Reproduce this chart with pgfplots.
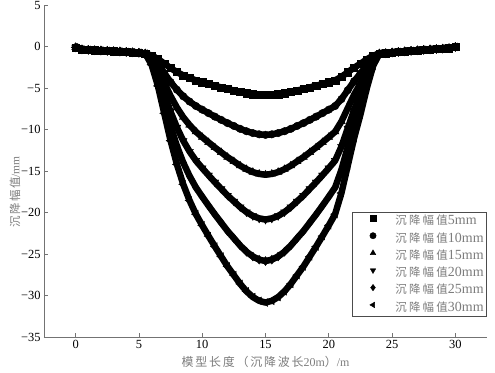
\documentclass[border=0pt]{standalone}
\usepackage{pgfplots}
\pgfplotsset{compat=1.18}
\usepackage{pgfplotstable}
\usepackage{fontspec}
\setmainfont{Liberation Serif}
\newfontfamily\cjk[LetterSpace=12]{Noto Sans CJK SC}
\newfontfamily\cjkx[LetterSpace=15]{Noto Sans CJK SC}
\newfontfamily\cjkl[LetterSpace=20]{Noto Sans CJK SC}
\definecolor{axgray}{RGB}{115,115,115}
\definecolor{labgray}{RGB}{125,125,125}
\newcommand\leg[1]{\textcolor{labgray}{{\cjkl\fontsize{11.5}{13}\selectfont 沉降幅值}#1}}

\pgfplotstableread{
x s5 s10 s15 s20 s25 s30
0.0 -0.10 -0.10 -0.10 -0.10 -0.10 -0.10
0.5 -0.35 -0.35 -0.35 -0.35 -0.35 -0.35
1.0 -0.40 -0.40 -0.40 -0.40 -0.40 -0.40
1.5 -0.45 -0.45 -0.45 -0.45 -0.45 -0.45
2.0 -0.48 -0.48 -0.48 -0.48 -0.48 -0.48
2.5 -0.52 -0.52 -0.52 -0.52 -0.52 -0.52
3.0 -0.56 -0.56 -0.56 -0.56 -0.56 -0.56
3.5 -0.60 -0.60 -0.60 -0.60 -0.60 -0.60
4.0 -0.65 -0.65 -0.65 -0.65 -0.65 -0.65
4.5 -0.70 -0.70 -0.70 -0.70 -0.70 -0.70
5.0 -0.75 -0.75 -0.75 -0.75 -0.75 -0.75
5.5 -0.85 -0.85 -0.85 -0.85 -0.85 -0.85
6.0 -1.08 -1.29 -1.51 -1.75 -1.98 -2.20
6.5 -1.50 -2.12 -2.75 -3.45 -4.10 -4.75
7.0 -2.05 -3.20 -4.35 -5.65 -6.85 -8.05
7.5 -2.60 -4.28 -5.96 -7.85 -9.60 -11.35
8.0 -3.08 -5.21 -7.35 -9.75 -11.98 -14.20
8.5 -3.48 -6.00 -8.52 -11.35 -13.98 -16.60
9.0 -3.80 -6.63 -9.46 -12.65 -15.60 -18.55
9.5 -4.08 -7.17 -10.27 -13.75 -16.98 -20.20
10.0 -4.30 -7.61 -10.92 -14.65 -18.10 -21.55
10.5 -4.52 -8.03 -11.55 -15.51 -19.18 -22.84
11.0 -4.73 -8.45 -12.17 -16.35 -20.23 -24.10
11.5 -4.93 -8.84 -12.75 -17.15 -21.23 -25.30
12.0 -5.13 -9.23 -13.33 -17.95 -22.23 -26.50
12.5 -5.30 -9.57 -13.84 -18.65 -23.10 -27.55
13.0 -5.48 -9.92 -14.36 -19.35 -23.98 -28.60
13.5 -5.63 -10.21 -14.79 -19.95 -24.73 -29.50
14.0 -5.74 -10.43 -15.13 -20.41 -25.30 -30.19
14.5 -5.82 -10.58 -15.35 -20.71 -25.68 -30.64
15.0 -5.85 -10.65 -15.45 -20.85 -25.85 -30.85
15.5 -5.82 -10.58 -15.35 -20.71 -25.68 -30.64
16.0 -5.74 -10.43 -15.13 -20.41 -25.30 -30.19
16.5 -5.63 -10.21 -14.79 -19.95 -24.73 -29.50
17.0 -5.48 -9.92 -14.36 -19.35 -23.98 -28.60
17.5 -5.30 -9.57 -13.84 -18.65 -23.10 -27.55
18.0 -5.13 -9.23 -13.33 -17.95 -22.23 -26.50
18.5 -4.93 -8.84 -12.75 -17.15 -21.23 -25.30
19.0 -4.73 -8.45 -12.17 -16.35 -20.23 -24.10
19.5 -4.52 -8.03 -11.55 -15.51 -19.18 -22.84
20.0 -4.30 -7.61 -10.92 -14.65 -18.10 -21.55
20.5 -4.08 -7.17 -10.27 -13.75 -16.98 -20.20
21.0 -3.65 -6.34 -9.03 -12.05 -14.85 -17.65
21.5 -3.10 -5.26 -7.42 -9.85 -12.10 -14.35
22.0 -2.55 -4.18 -5.81 -7.65 -9.35 -11.05
22.5 -2.08 -3.25 -4.43 -5.75 -6.98 -8.20
23.0 -1.55 -2.22 -2.89 -3.65 -4.35 -5.05
23.5 -1.10 -1.34 -1.58 -1.85 -2.10 -2.35
24.0 -0.85 -0.85 -0.85 -0.85 -0.85 -0.85
24.5 -0.80 -0.80 -0.80 -0.80 -0.80 -0.80
25.0 -0.72 -0.72 -0.72 -0.72 -0.72 -0.72
25.5 -0.65 -0.65 -0.65 -0.65 -0.65 -0.65
26.0 -0.58 -0.58 -0.58 -0.58 -0.58 -0.58
26.5 -0.52 -0.52 -0.52 -0.52 -0.52 -0.52
27.0 -0.46 -0.46 -0.46 -0.46 -0.46 -0.46
27.5 -0.40 -0.40 -0.40 -0.40 -0.40 -0.40
28.0 -0.35 -0.35 -0.35 -0.35 -0.35 -0.35
28.5 -0.30 -0.30 -0.30 -0.30 -0.30 -0.30
29.0 -0.25 -0.25 -0.25 -0.25 -0.25 -0.25
29.5 -0.20 -0.20 -0.20 -0.20 -0.20 -0.20
30.0 -0.05 -0.05 -0.05 -0.05 -0.05 -0.05
}\data

\begin{document}
\begin{tikzpicture}
\begin{axis}[
  name=main,
  scale only axis,
  width=443bp, height=332bp,
  xmin=-2.5, xmax=32.5, ymin=-35, ymax=5,
  axis x line*=bottom, axis y line*=left,
  axis line style={axgray, line width=0.8pt},
  tick style={axgray, line width=0.8pt},
  tick align=inside,
  major tick length=4bp,
  xtick={0,5,...,30}, xticklabels={0,5,10,15,20,25,30},
  ytick={-35,-30,...,5}, yticklabels={−35,−30,−25,−20,−15,−10,−5,0,5},
  tick label style={font=\fontsize{12.5}{14}\selectfont, black},
  xlabel={{\cjkx 模型长度（沉降波长}20m{\cjkx ）}/m},
  ylabel={{\cjk 沉降幅值}/mm},
  xlabel style={labgray, font=\fontsize{12}{14}\selectfont, at={(axis description cs:0.5,0)}, anchor=center, yshift=-25bp},
  ylabel style={labgray, font=\fontsize{11.5}{13}\selectfont, at={(axis description cs:-0.0655,0.437)}, anchor=center},
  legend style={at={(1,0.377)}, anchor=north east, draw=black!70, fill=white,
    thick, inner xsep=3bp, inner ysep=2.5bp,
    font=\fontsize{14}{16}\selectfont, row sep=4.3bp, column sep=2bp,
    nodes={inner sep=0bp, text height=10bp, text depth=3bp}},
  legend cell align=left,
  legend image code/.code={%
    \path (0cm,0cm) (1.3cm,0cm);
    \draw[#1, mark size=3.2pt, line width=0.4pt] plot coordinates {(0.6cm,0.1cm)};},
]
\addplot[black, line width=6.5pt, line join=round, forget plot] table[x=x,y=s5]{\data};
\addplot[black, line width=6.5pt, line join=round, forget plot] table[x=x,y=s10]{\data};
\addplot[black, line width=6.5pt, line join=round, forget plot] table[x=x,y=s15]{\data};
\addplot[black, line width=6.5pt, line join=round, forget plot] table[x=x,y=s20]{\data};
\addplot[black, line width=6.5pt, line join=round, forget plot] table[x=x,y=s25]{\data};
\addplot[black, line width=6.5pt, line join=round, forget plot] table[x=x,y=s30]{\data};
\addplot[only marks, black, mark=square*, mark size=3.6pt] table[x=x,y=s5]{\data};
\addlegendentry{\leg{5mm}}
\addplot[only marks, black, mark=*, mark size=3.8pt] table[x=x,y=s10]{\data};
\addlegendentry{\leg{10mm}}
\addplot[only marks, black, mark=triangle*, mark size=4.5pt] table[x=x,y=s15]{\data};
\addlegendentry{\leg{15mm}}
\addplot[only marks, black, mark=triangle*, mark size=4.5pt, mark options={rotate=180}] table[x=x,y=s20]{\data};
\addlegendentry{\leg{20mm}}
\addplot[only marks, black, mark=diamond*, mark size=4.5pt] table[x=x,y=s25]{\data};
\addlegendentry{\leg{25mm}}
\addplot[only marks, black, mark=triangle*, mark size=4.5pt, mark options={rotate=90}] table[x=x,y=s30]{\data};
\addlegendentry{\leg{30mm}}
\end{axis}
\pgfresetboundingbox
\useasboundingbox ([shift={(-44bp,-36bp)}]main.south west) rectangle ++(495bp,373bp);
\end{tikzpicture}
\end{document}
